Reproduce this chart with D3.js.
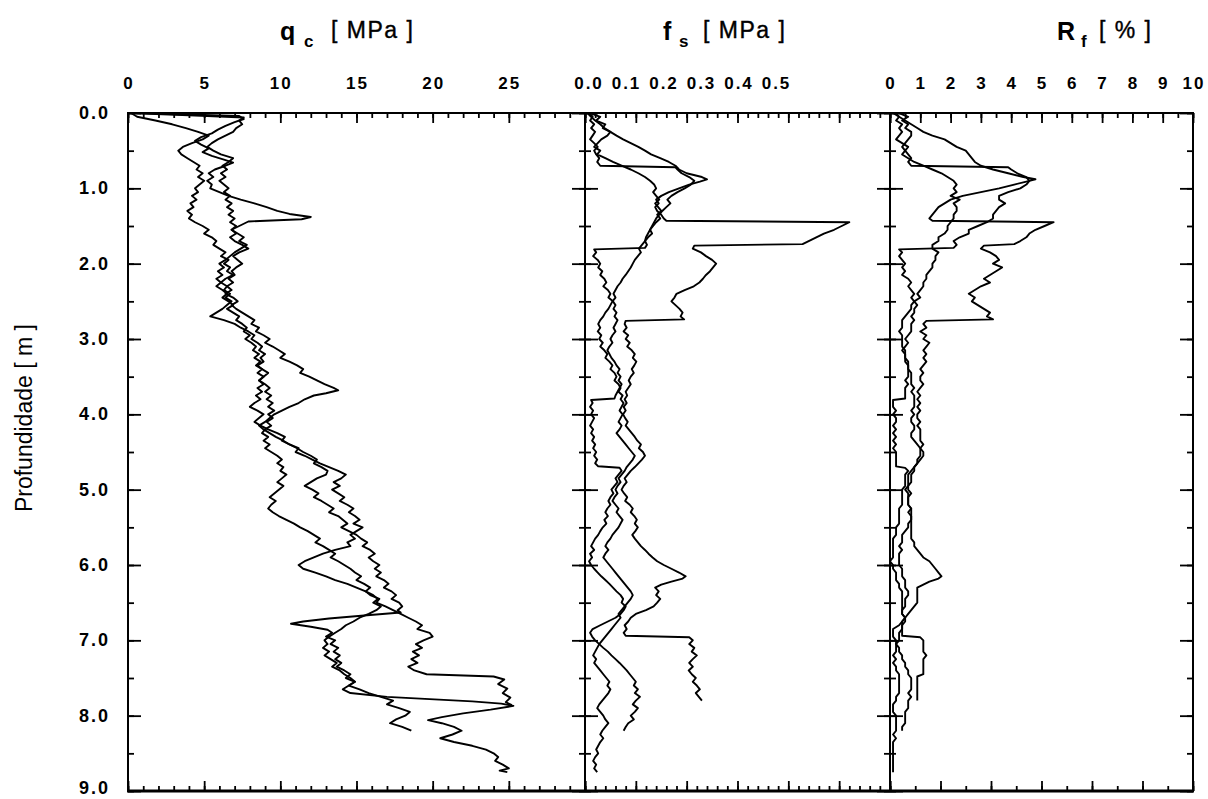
<!DOCTYPE html>
<html>
<head>
<meta charset="utf-8">
<script src="https://cdn.jsdelivr.net/npm/d3@7"></script>
<style>
  body { margin: 0; background: #fff; }
  svg { display: block; font-family: Arial, "Liberation Sans", Helvetica, sans-serif; }
</style>
</head>
<body>
<svg id="chart" width="1208" height="799"></svg>
<script>
// tick labels
const depthTickLabels = [0, 1, 2, 3, 4, 5, 6, 7, 8, 9]
const qcTickLabels = [0, 5, 10, 15, 20, 25]
const fsTickLabels = [0, 0.1, 0.2, 0.3, 0.4, 0.5]
const rfTickLabels = [0, 1, 2, 3, 4, 5, 6, 7, 8, 9, 10]

// qc [MPa] per sounding: [depth m, value]
const qc1 = [[0,0.3],[0.04,7.3],[0.08,7.6],[0.12,7.0],[0.17,6.4],[0.22,5.9],[0.27,5.5],[0.32,4.8],[0.37,4.4],[0.42,4.8],[0.47,5.3],[0.52,4.9],[0.57,5.5],[0.62,6.3],[0.66,6.9],[0.7,6.4],[0.75,5.7],[0.8,5.3],[0.85,5.6],[0.9,5.2],[0.95,5.5],[1.0,5.4],[1.05,6.0],[1.1,6.6],[1.15,7.4],[1.2,8.3],[1.25,9.1],[1.3,9.8],[1.34,10.6],[1.38,12.0],[1.41,11.4],[1.44,7.9],[1.5,7.3],[1.55,6.8],[1.6,7.1],[1.65,6.7],[1.7,7.0],[1.75,7.5],[1.8,7.9],[1.85,7.3],[1.9,6.9],[1.95,7.2],[2.0,7.5],[2.05,7.1],[2.1,6.8],[2.15,7.0],[2.2,6.6],[2.25,6.9],[2.3,6.5],[2.35,6.3],[2.4,6.7],[2.45,6.4],[2.5,6.8],[2.55,6.5],[2.6,6.2],[2.65,5.8],[2.7,5.4],[2.75,6.3],[2.8,7.0],[2.85,7.4],[2.9,7.9],[2.95,8.3],[3.0,8.1],[3.05,8.5],[3.1,8.8],[3.15,8.6],[3.2,9.0],[3.25,8.7],[3.3,8.9],[3.35,8.5],[3.4,8.8],[3.45,9.2],[3.5,8.9],[3.55,8.6],[3.6,8.9],[3.65,8.5],[3.7,8.8],[3.75,8.4],[3.8,8.7],[3.85,8.3],[3.9,8.0],[3.95,8.5],[4.0,8.9],[4.05,8.6],[4.1,8.3],[4.15,8.7],[4.2,9.2],[4.25,9.8],[4.3,10.3],[4.35,10.1],[4.4,10.6],[4.45,11.2],[4.5,11.0],[4.55,11.6],[4.6,12.1],[4.65,12.6],[4.7,13.2],[4.75,13.8],[4.8,14.3],[4.85,14.0],[4.9,13.5],[4.95,13.9],[5.0,13.4],[5.05,13.8],[5.1,14.2],[5.15,13.9],[5.2,14.4],[5.25,14.8],[5.3,14.5],[5.35,14.9],[5.4,15.2],[5.45,14.8],[5.5,15.4],[5.55,15.0],[5.6,14.6],[5.65,14.9],[5.7,14.4],[5.75,14.6],[5.8,13.6],[5.85,12.8],[5.9,12.2],[5.95,11.6],[6.0,11.2],[6.05,11.5],[6.1,12.3],[6.15,13.0],[6.2,13.6],[6.25,14.4],[6.3,15.0],[6.35,15.6],[6.4,15.9],[6.45,16.5],[6.5,16.3],[6.55,16.9],[6.6,17.4],[6.65,17.9],[6.7,18.4],[6.75,18.9],[6.8,19.3],[6.85,19.0],[6.9,19.8],[6.95,20.0],[7.0,19.4],[7.05,18.9],[7.1,19.3],[7.15,18.7],[7.2,19.1],[7.25,18.6],[7.3,19.0],[7.35,18.4],[7.4,18.8],[7.45,19.6],[7.48,24.0],[7.52,24.7],[7.58,24.3],[7.64,24.9],[7.7,24.6],[7.76,25.1],[7.82,24.8],[7.86,25.2]]
const qc2 = [[0,0.2],[0.05,0.6],[0.1,1.8],[0.15,2.9],[0.2,3.8],[0.25,4.6],[0.3,5.3],[0.35,4.9],[0.4,4.2],[0.45,3.6],[0.5,3.3],[0.55,3.5],[0.6,3.9],[0.65,4.3],[0.7,4.7],[0.75,4.5],[0.8,4.9],[0.85,4.6],[0.9,5.0],[0.95,4.7],[1.0,4.4],[1.05,4.6],[1.1,4.2],[1.15,4.5],[1.2,4.1],[1.25,4.3],[1.3,3.9],[1.35,4.2],[1.4,4.0],[1.45,4.4],[1.5,4.9],[1.55,5.3],[1.6,5.0],[1.65,5.5],[1.7,5.8],[1.75,5.6],[1.8,6.0],[1.85,6.4],[1.9,6.1],[1.95,6.6],[2.0,6.3],[2.05,6.7],[2.1,6.5],[2.15,6.9],[2.2,6.4],[2.25,6.1],[2.3,6.5],[2.35,6.8],[2.4,6.4],[2.45,6.9],[2.5,7.2],[2.55,6.8],[2.6,7.1],[2.65,7.5],[2.7,7.9],[2.75,8.3],[2.8,8.1],[2.85,8.6],[2.9,8.4],[2.95,8.9],[3.0,9.3],[3.05,9.0],[3.1,9.5],[3.15,9.9],[3.2,10.3],[3.25,10.0],[3.3,10.6],[3.35,11.1],[3.4,11.5],[3.45,11.3],[3.5,11.9],[3.55,12.4],[3.6,12.9],[3.65,13.5],[3.68,13.8],[3.72,13.0],[3.75,12.2],[3.8,11.6],[3.85,11.2],[3.9,10.6],[3.95,10.1],[4.0,9.6],[4.05,9.3],[4.1,9.0],[4.15,8.6],[4.2,8.9],[4.25,9.3],[4.3,9.7],[4.35,10.2],[4.4,10.6],[4.45,11.1],[4.5,11.5],[4.55,12.0],[4.6,12.4],[4.65,12.2],[4.7,12.7],[4.75,13.1],[4.8,13.0],[4.85,12.4],[4.9,12.0],[4.95,11.6],[5.0,12.1],[5.05,12.5],[5.1,12.2],[5.15,12.7],[5.2,13.1],[5.25,13.5],[5.3,13.2],[5.35,13.8],[5.4,14.1],[5.45,14.4],[5.5,14.0],[5.55,14.5],[5.6,15.0],[5.65,15.3],[5.7,15.7],[5.75,15.4],[5.8,15.9],[5.85,16.2],[5.9,15.8],[5.95,16.1],[6.0,16.5],[6.05,16.2],[6.1,16.6],[6.15,16.3],[6.2,16.8],[6.25,17.1],[6.3,16.8],[6.35,17.3],[6.4,17.6],[6.45,17.3],[6.5,17.8],[6.55,18.0],[6.6,17.7],[6.63,17.9],[6.67,15.5],[6.71,13.2],[6.75,11.5],[6.78,10.7],[6.82,12.0],[6.86,13.1],[6.9,13.4],[6.95,13.0],[7.0,13.6],[7.05,13.3],[7.1,13.8],[7.15,13.5],[7.2,13.9],[7.25,13.6],[7.3,14.0],[7.35,13.7],[7.4,14.2],[7.45,14.6],[7.5,14.3],[7.55,14.9],[7.6,14.5],[7.65,15.2],[7.7,15.8],[7.75,16.6],[7.8,17.4],[7.85,17.0],[7.9,17.8],[7.95,18.5],[8.0,18.2],[8.05,17.6],[8.1,17.2],[8.15,18.0],[8.2,18.6]]
const qc3 = [[0,0.1],[0.03,4.0],[0.06,7.6],[0.1,7.3],[0.15,7.5],[0.2,7.1],[0.25,6.9],[0.3,6.4],[0.35,5.9],[0.4,5.5],[0.45,5.2],[0.5,5.6],[0.55,6.1],[0.6,6.9],[0.65,6.6],[0.7,6.2],[0.75,6.5],[0.8,6.1],[0.85,6.4],[0.9,6.0],[0.95,6.3],[1.0,6.6],[1.05,6.3],[1.1,6.7],[1.15,6.4],[1.2,6.8],[1.25,6.5],[1.3,6.9],[1.35,6.6],[1.4,7.0],[1.45,6.7],[1.5,7.1],[1.55,6.8],[1.6,7.2],[1.65,7.6],[1.7,7.3],[1.75,7.8],[1.8,7.4],[1.85,7.0],[1.9,6.7],[1.95,6.4],[2.0,6.0],[2.05,6.3],[2.1,5.9],[2.15,6.2],[2.2,5.8],[2.25,6.1],[2.3,5.8],[2.35,6.2],[2.4,6.5],[2.45,6.2],[2.5,6.6],[2.55,6.9],[2.6,6.5],[2.65,6.9],[2.7,7.3],[2.75,7.1],[2.8,7.5],[2.85,7.8],[2.9,7.6],[2.95,8.0],[3.0,7.7],[3.05,8.1],[3.1,8.4],[3.15,8.2],[3.2,8.6],[3.25,8.3],[3.3,8.7],[3.35,8.4],[3.4,8.8],[3.45,8.5],[3.5,8.9],[3.55,8.6],[3.6,9.0],[3.65,9.3],[3.7,9.0],[3.75,9.4],[3.8,9.1],[3.85,9.5],[3.9,9.2],[3.95,9.6],[4.0,9.2],[4.05,9.5],[4.1,9.1],[4.15,9.4],[4.2,9.0],[4.25,8.8],[4.3,9.2],[4.35,8.9],[4.4,9.3],[4.45,9.0],[4.5,9.4],[4.55,9.8],[4.6,10.1],[4.65,9.8],[4.7,10.2],[4.75,10.0],[4.8,10.4],[4.85,10.1],[4.9,9.8],[4.95,10.2],[5.0,9.9],[5.05,9.6],[5.1,9.3],[5.15,9.7],[5.2,9.4],[5.25,9.2],[5.3,9.5],[5.35,9.9],[5.4,10.4],[5.45,10.9],[5.5,11.3],[5.55,11.8],[5.6,12.2],[5.65,12.6],[5.7,12.3],[5.75,12.8],[5.8,13.2],[5.85,13.6],[5.9,13.3],[5.95,13.8],[6.0,14.2],[6.05,14.6],[6.1,14.9],[6.15,15.3],[6.2,15.0],[6.25,15.5],[6.3,15.9],[6.35,15.6],[6.4,16.1],[6.45,16.4],[6.5,16.1],[6.55,16.6],[6.6,16.3],[6.65,15.8],[6.7,15.2],[6.75,14.8],[6.8,14.3],[6.85,14.0],[6.9,13.6],[6.95,13.2],[7.0,12.9],[7.05,13.1],[7.1,12.8],[7.15,13.2],[7.2,12.9],[7.25,13.3],[7.3,13.7],[7.35,13.4],[7.4,13.9],[7.45,14.2],[7.5,14.6],[7.55,14.9],[7.6,14.5],[7.65,14.1],[7.7,14.6],[7.75,17.0],[7.78,19.8],[7.81,22.6],[7.84,24.5],[7.87,25.3],[7.92,23.8],[7.97,22.0],[8.02,20.6],[8.06,19.7],[8.1,20.6],[8.15,21.4],[8.2,21.9],[8.25,21.3],[8.3,20.5],[8.35,21.4],[8.4,22.6],[8.45,23.5],[8.5,24.0],[8.55,24.3],[8.6,24.1],[8.65,24.6],[8.7,25.0],[8.73,24.4],[8.75,24.9]]

// fs [MPa] per sounding
const fs1 = [[0,0.005],[0.05,0.012],[0.1,0.02],[0.15,0.03],[0.2,0.038],[0.25,0.05],[0.3,0.062],[0.35,0.075],[0.4,0.09],[0.45,0.105],[0.5,0.118],[0.55,0.13],[0.6,0.148],[0.65,0.165],[0.7,0.178],[0.75,0.185],[0.8,0.2],[0.85,0.23],[0.88,0.24],[0.91,0.226],[0.95,0.205],[1.0,0.185],[1.05,0.165],[1.1,0.15],[1.15,0.14],[1.2,0.145],[1.25,0.138],[1.3,0.142],[1.35,0.15],[1.4,0.155],[1.43,0.16],[1.45,0.52],[1.5,0.505],[1.55,0.49],[1.6,0.47],[1.65,0.455],[1.7,0.44],[1.74,0.428],[1.76,0.215],[1.8,0.212],[1.85,0.228],[1.9,0.238],[1.95,0.25],[2.0,0.258],[2.05,0.252],[2.1,0.246],[2.15,0.238],[2.2,0.232],[2.25,0.225],[2.3,0.214],[2.35,0.196],[2.4,0.18],[2.45,0.176],[2.5,0.17],[2.55,0.178],[2.6,0.186],[2.65,0.192],[2.7,0.188],[2.74,0.195],[2.76,0.08],[2.8,0.078],[2.85,0.082],[2.9,0.076],[2.95,0.085],[3.0,0.08],[3.05,0.088],[3.1,0.083],[3.15,0.092],[3.2,0.098],[3.25,0.094],[3.3,0.101],[3.35,0.097],[3.4,0.092],[3.45,0.096],[3.5,0.09],[3.55,0.086],[3.6,0.09],[3.65,0.085],[3.7,0.08],[3.75,0.083],[3.8,0.078],[3.85,0.082],[3.9,0.076],[3.95,0.08],[4.0,0.075],[4.05,0.079],[4.1,0.084],[4.15,0.08],[4.2,0.086],[4.25,0.092],[4.3,0.098],[4.35,0.103],[4.4,0.11],[4.45,0.106],[4.5,0.114],[4.55,0.118],[4.6,0.112],[4.65,0.105],[4.7,0.098],[4.75,0.09],[4.8,0.084],[4.85,0.078],[4.9,0.082],[4.95,0.076],[5.0,0.072],[5.05,0.077],[5.1,0.083],[5.15,0.079],[5.2,0.088],[5.25,0.094],[5.3,0.09],[5.35,0.097],[5.4,0.102],[5.45,0.098],[5.5,0.104],[5.55,0.099],[5.6,0.093],[5.65,0.098],[5.7,0.104],[5.75,0.11],[5.8,0.118],[5.85,0.125],[5.9,0.133],[5.95,0.142],[6.0,0.155],[6.05,0.17],[6.1,0.185],[6.15,0.198],[6.18,0.192],[6.22,0.17],[6.26,0.15],[6.3,0.138],[6.35,0.145],[6.4,0.14],[6.45,0.148],[6.5,0.142],[6.55,0.135],[6.6,0.12],[6.65,0.1],[6.7,0.09],[6.75,0.085],[6.8,0.078],[6.85,0.082],[6.9,0.076],[6.94,0.08],[6.96,0.205],[7.0,0.212],[7.05,0.205],[7.1,0.215],[7.15,0.21],[7.2,0.22],[7.25,0.212],[7.3,0.205],[7.35,0.212],[7.4,0.204],[7.45,0.21],[7.5,0.218],[7.55,0.212],[7.6,0.22],[7.65,0.226],[7.7,0.218],[7.75,0.224],[7.8,0.23]]
const fs2 = [[0,0.008],[0.05,0.015],[0.1,0.01],[0.15,0.018],[0.2,0.012],[0.25,0.02],[0.3,0.015],[0.35,0.01],[0.4,0.018],[0.45,0.025],[0.5,0.018],[0.55,0.022],[0.6,0.028],[0.65,0.024],[0.7,0.03],[0.72,0.178],[0.75,0.182],[0.8,0.19],[0.85,0.205],[0.9,0.215],[0.95,0.208],[1.0,0.196],[1.05,0.182],[1.1,0.17],[1.15,0.162],[1.2,0.168],[1.25,0.16],[1.3,0.152],[1.35,0.146],[1.4,0.14],[1.45,0.136],[1.5,0.132],[1.55,0.128],[1.6,0.124],[1.65,0.12],[1.7,0.118],[1.75,0.122],[1.79,0.118],[1.81,0.018],[1.85,0.022],[1.9,0.016],[1.95,0.025],[2.0,0.03],[2.05,0.026],[2.1,0.034],[2.15,0.03],[2.2,0.038],[2.25,0.042],[2.3,0.036],[2.35,0.045],[2.4,0.05],[2.45,0.046],[2.5,0.055],[2.55,0.06],[2.6,0.056],[2.65,0.062],[2.7,0.058],[2.75,0.064],[2.8,0.06],[2.85,0.056],[2.9,0.06],[2.95,0.054],[3.0,0.05],[3.05,0.054],[3.1,0.048],[3.15,0.044],[3.2,0.048],[3.25,0.052],[3.3,0.058],[3.35,0.062],[3.4,0.068],[3.45,0.064],[3.5,0.07],[3.55,0.066],[3.6,0.072],[3.65,0.068],[3.7,0.064],[3.75,0.06],[3.79,0.058],[3.81,0.012],[3.85,0.015],[3.9,0.01],[3.95,0.016],[4.0,0.012],[4.05,0.018],[4.1,0.014],[4.15,0.01],[4.2,0.016],[4.25,0.012],[4.3,0.018],[4.35,0.014],[4.4,0.02],[4.45,0.016],[4.5,0.022],[4.55,0.018],[4.6,0.024],[4.65,0.02],[4.69,0.026],[4.71,0.068],[4.75,0.072],[4.8,0.066],[4.85,0.06],[4.9,0.064],[4.95,0.058],[5.0,0.052],[5.05,0.056],[5.1,0.05],[5.15,0.046],[5.2,0.05],[5.25,0.044],[5.3,0.04],[5.35,0.045],[5.4,0.038],[5.45,0.042],[5.5,0.035],[5.55,0.03],[5.6,0.026],[5.65,0.02],[5.7,0.016],[5.75,0.012],[5.8,0.018],[5.85,0.01],[5.9,0.014],[5.95,0.008],[6.0,0.012],[6.05,0.018],[6.1,0.025],[6.15,0.032],[6.2,0.04],[6.25,0.048],[6.3,0.055],[6.35,0.062],[6.4,0.07],[6.45,0.075],[6.5,0.072],[6.55,0.08],[6.6,0.076],[6.65,0.07],[6.7,0.06],[6.75,0.045],[6.8,0.03],[6.85,0.015],[6.9,0.01],[6.95,0.014],[7.0,0.02],[7.05,0.028],[7.1,0.036],[7.15,0.045],[7.2,0.052],[7.25,0.06],[7.3,0.068],[7.35,0.075],[7.4,0.082],[7.45,0.088],[7.5,0.094],[7.55,0.1],[7.6,0.096],[7.65,0.104],[7.7,0.098],[7.75,0.108],[7.8,0.1],[7.85,0.094],[7.9,0.104],[7.95,0.098],[8.0,0.09],[8.05,0.096],[8.1,0.085],[8.15,0.08],[8.2,0.076]]
const fs3 = [[0,0.01],[0.05,0.03],[0.1,0.022],[0.15,0.04],[0.2,0.035],[0.25,0.05],[0.3,0.044],[0.35,0.032],[0.4,0.025],[0.45,0.018],[0.5,0.03],[0.55,0.024],[0.6,0.04],[0.65,0.055],[0.7,0.072],[0.75,0.09],[0.8,0.105],[0.85,0.118],[0.9,0.128],[0.95,0.136],[1.0,0.14],[1.05,0.134],[1.1,0.14],[1.15,0.146],[1.2,0.138],[1.25,0.144],[1.3,0.15],[1.35,0.142],[1.4,0.148],[1.45,0.14],[1.5,0.134],[1.55,0.128],[1.6,0.132],[1.65,0.124],[1.7,0.118],[1.75,0.112],[1.8,0.106],[1.85,0.11],[1.9,0.104],[1.95,0.098],[2.0,0.094],[2.05,0.09],[2.1,0.085],[2.15,0.08],[2.2,0.074],[2.25,0.07],[2.3,0.064],[2.35,0.06],[2.4,0.056],[2.45,0.06],[2.5,0.054],[2.55,0.05],[2.6,0.046],[2.65,0.04],[2.7,0.036],[2.75,0.03],[2.8,0.026],[2.85,0.03],[2.9,0.025],[2.95,0.032],[3.0,0.028],[3.05,0.035],[3.1,0.03],[3.15,0.038],[3.2,0.044],[3.25,0.04],[3.3,0.048],[3.35,0.054],[3.4,0.05],[3.45,0.058],[3.5,0.062],[3.55,0.058],[3.6,0.066],[3.65,0.07],[3.7,0.066],[3.75,0.074],[3.8,0.07],[3.85,0.076],[3.9,0.072],[3.95,0.068],[4.0,0.074],[4.05,0.07],[4.1,0.066],[4.15,0.072],[4.2,0.068],[4.25,0.062],[4.3,0.068],[4.35,0.074],[4.4,0.08],[4.45,0.086],[4.5,0.092],[4.55,0.098],[4.6,0.094],[4.65,0.088],[4.7,0.082],[4.75,0.078],[4.8,0.072],[4.85,0.066],[4.9,0.07],[4.95,0.064],[5.0,0.06],[5.05,0.064],[5.1,0.058],[5.15,0.054],[5.2,0.06],[5.25,0.066],[5.3,0.062],[5.35,0.068],[5.4,0.074],[5.45,0.07],[5.5,0.066],[5.55,0.06],[5.6,0.054],[5.65,0.05],[5.7,0.044],[5.75,0.04],[5.8,0.046],[5.85,0.04],[5.9,0.036],[5.95,0.042],[6.0,0.048],[6.05,0.054],[6.1,0.06],[6.15,0.066],[6.2,0.072],[6.25,0.078],[6.3,0.084],[6.35,0.09],[6.4,0.094],[6.45,0.09],[6.5,0.084],[6.55,0.078],[6.6,0.072],[6.65,0.066],[6.7,0.07],[6.75,0.064],[6.8,0.058],[6.85,0.052],[6.9,0.046],[6.95,0.04],[7.0,0.034],[7.05,0.028],[7.1,0.024],[7.15,0.02],[7.2,0.016],[7.25,0.022],[7.3,0.018],[7.35,0.024],[7.4,0.03],[7.45,0.036],[7.5,0.042],[7.55,0.048],[7.6,0.044],[7.65,0.05],[7.7,0.046],[7.75,0.04],[7.8,0.034],[7.85,0.028],[7.9,0.024],[7.95,0.03],[8.0,0.036],[8.05,0.04],[8.1,0.046],[8.15,0.04],[8.2,0.034],[8.25,0.03],[8.3,0.036],[8.35,0.03],[8.4,0.026],[8.45,0.022],[8.5,0.026],[8.55,0.02],[8.6,0.016],[8.65,0.022],[8.7,0.018],[8.75,0.024]]

// Rf [%] per sounding
const rf1 = [[0,0.2],[0.05,0.3],[0.1,0.5],[0.15,0.7],[0.2,0.9],[0.25,1.1],[0.3,1.4],[0.35,1.8],[0.4,2.0],[0.45,2.2],[0.5,2.5],[0.55,2.6],[0.6,2.7],[0.65,2.8],[0.7,3.0],[0.75,3.4],[0.8,3.9],[0.85,4.4],[0.88,4.8],[0.91,4.5],[0.95,4.1],[1.0,3.6],[1.05,3.0],[1.1,2.4],[1.15,2.0],[1.2,1.8],[1.25,1.6],[1.3,1.5],[1.35,1.4],[1.4,1.3],[1.43,1.4],[1.45,5.4],[1.5,5.1],[1.55,4.8],[1.6,4.6],[1.65,4.5],[1.7,4.3],[1.74,4.1],[1.76,3.1],[1.8,3.0],[1.85,3.3],[1.9,3.5],[1.95,3.6],[2.0,3.4],[2.05,3.7],[2.1,3.5],[2.15,3.3],[2.2,3.1],[2.25,3.3],[2.3,3.0],[2.35,2.8],[2.4,2.6],[2.45,2.8],[2.5,2.7],[2.55,2.9],[2.6,3.1],[2.65,3.3],[2.7,3.2],[2.74,3.4],[2.76,1.2],[2.8,1.1],[2.85,1.2],[2.9,1.0],[2.95,1.2],[3.0,1.1],[3.05,1.3],[3.1,1.2],[3.15,1.1],[3.2,1.2],[3.25,1.1],[3.3,1.2],[3.35,1.1],[3.4,1.0],[3.45,1.1],[3.5,1.0],[3.55,1.0],[3.6,1.1],[3.65,1.0],[3.7,0.9],[3.75,1.0],[3.8,0.9],[3.85,1.0],[3.9,0.9],[3.95,1.0],[4.0,0.9],[4.05,0.9],[4.1,1.0],[4.15,0.9],[4.2,1.0],[4.25,1.0],[4.3,1.0],[4.35,1.0],[4.4,1.1],[4.45,1.0],[4.5,1.1],[4.55,1.1],[4.6,1.0],[4.65,0.9],[4.7,0.8],[4.75,0.7],[4.8,0.6],[4.85,0.6],[4.9,0.6],[4.95,0.6],[5.0,0.5],[5.05,0.6],[5.1,0.6],[5.15,0.6],[5.2,0.6],[5.25,0.7],[5.3,0.6],[5.35,0.7],[5.4,0.7],[5.45,0.7],[5.5,0.7],[5.55,0.7],[5.6,0.7],[5.65,0.7],[5.7,0.8],[5.75,0.8],[5.8,0.9],[5.85,1.0],[5.9,1.1],[5.95,1.3],[6.0,1.4],[6.05,1.5],[6.1,1.6],[6.15,1.7],[6.18,1.6],[6.22,1.3],[6.26,1.1],[6.3,0.9],[6.35,0.9],[6.4,0.9],[6.45,0.9],[6.5,0.9],[6.55,0.8],[6.6,0.7],[6.65,0.6],[6.7,0.5],[6.75,0.5],[6.8,0.4],[6.85,0.4],[6.9,0.4],[6.94,0.4],[6.96,1.0],[7.0,1.1],[7.05,1.1],[7.1,1.1],[7.15,1.1],[7.2,1.2],[7.25,1.1],[7.3,1.1],[7.35,1.1],[7.4,1.1],[7.45,1.1],[7.48,0.9],[7.52,0.9],[7.6,0.9],[7.65,0.9],[7.7,0.9],[7.75,0.9],[7.8,0.9]]
const rf2 = [[0,0.1],[0.05,0.3],[0.1,0.2],[0.15,0.4],[0.2,0.3],[0.25,0.4],[0.3,0.3],[0.35,0.2],[0.4,0.4],[0.45,0.6],[0.5,0.5],[0.55,0.6],[0.6,0.7],[0.65,0.6],[0.7,0.7],[0.72,3.9],[0.75,4.0],[0.8,4.2],[0.85,4.5],[0.9,4.6],[0.95,4.5],[1.0,4.3],[1.05,3.9],[1.1,3.6],[1.15,3.6],[1.2,3.8],[1.25,3.6],[1.3,3.5],[1.35,3.4],[1.4,3.4],[1.45,3.2],[1.5,2.9],[1.55,2.6],[1.6,2.6],[1.65,2.3],[1.7,2.1],[1.75,2.2],[1.79,2.1],[1.81,0.3],[1.85,0.4],[1.9,0.3],[1.95,0.4],[2.0,0.5],[2.05,0.4],[2.1,0.5],[2.15,0.4],[2.2,0.6],[2.25,0.7],[2.3,0.6],[2.35,0.7],[2.4,0.8],[2.45,0.7],[2.5,0.8],[2.55,0.9],[2.6,0.8],[2.65,0.8],[2.7,0.7],[2.75,0.8],[2.8,0.7],[2.85,0.7],[2.9,0.7],[2.95,0.6],[3.0,0.5],[3.05,0.6],[3.1,0.5],[3.15,0.4],[3.2,0.5],[3.25,0.5],[3.3,0.5],[3.35,0.6],[3.4,0.6],[3.45,0.6],[3.5,0.6],[3.55,0.5],[3.6,0.6],[3.65,0.5],[3.7,0.5],[3.75,0.5],[3.79,0.5],[3.81,0.1],[3.85,0.1],[3.9,0.1],[3.95,0.2],[4.0,0.1],[4.05,0.2],[4.1,0.2],[4.15,0.1],[4.2,0.2],[4.25,0.1],[4.3,0.2],[4.35,0.1],[4.4,0.2],[4.45,0.1],[4.5,0.2],[4.55,0.2],[4.6,0.2],[4.65,0.2],[4.69,0.2],[4.71,0.5],[4.75,0.6],[4.8,0.5],[4.85,0.5],[4.9,0.5],[4.95,0.5],[5.0,0.4],[5.05,0.4],[5.1,0.4],[5.15,0.4],[5.2,0.4],[5.25,0.3],[5.3,0.3],[5.35,0.3],[5.4,0.3],[5.45,0.3],[5.5,0.2],[5.55,0.2],[5.6,0.2],[5.65,0.1],[5.7,0.1],[5.75,0.1],[5.8,0.1],[5.85,0.1],[5.9,0.1],[5.95,0.0],[6.0,0.1],[6.05,0.1],[6.1,0.2],[6.15,0.2],[6.2,0.2],[6.25,0.3],[6.3,0.3],[6.35,0.4],[6.4,0.4],[6.45,0.4],[6.5,0.4],[6.55,0.4],[6.6,0.4],[6.65,0.4],[6.7,0.5],[6.75,0.4],[6.8,0.3],[6.85,0.1],[6.9,0.1],[6.95,0.1],[7.0,0.2],[7.05,0.2],[7.1,0.3],[7.15,0.3],[7.2,0.4],[7.25,0.4],[7.3,0.5],[7.35,0.5],[7.4,0.6],[7.45,0.6],[7.5,0.7],[7.55,0.7],[7.6,0.7],[7.65,0.7],[7.7,0.6],[7.75,0.7],[7.8,0.6],[7.85,0.6],[7.9,0.6],[7.95,0.5],[8.0,0.5],[8.05,0.5],[8.1,0.5],[8.15,0.4],[8.2,0.4]]
const rf3 = [[0,0.3],[0.05,0.6],[0.1,0.4],[0.15,0.6],[0.2,0.5],[0.25,0.7],[0.3,0.7],[0.35,0.6],[0.4,0.5],[0.45,0.4],[0.5,0.5],[0.55,0.4],[0.6,0.6],[0.65,0.8],[0.7,1.1],[0.75,1.4],[0.8,1.7],[0.85,1.9],[0.9,2.1],[0.95,2.2],[1.0,2.1],[1.05,2.2],[1.1,2.0],[1.15,2.3],[1.2,2.1],[1.25,2.2],[1.3,2.2],[1.35,2.1],[1.4,2.1],[1.45,2.0],[1.5,1.9],[1.55,1.9],[1.6,1.8],[1.65,1.6],[1.7,1.6],[1.75,1.4],[1.8,1.4],[1.85,1.6],[1.9,1.5],[1.95,1.5],[2.0,1.4],[2.05,1.4],[2.1,1.3],[2.15,1.2],[2.2,1.2],[2.25,1.1],[2.3,1.1],[2.35,1.0],[2.4,0.9],[2.45,1.0],[2.5,0.8],[2.55,0.7],[2.6,0.7],[2.65,0.6],[2.7,0.5],[2.75,0.4],[2.8,0.4],[2.85,0.4],[2.9,0.3],[2.95,0.4],[3.0,0.4],[3.05,0.4],[3.1,0.4],[3.15,0.5],[3.2,0.5],[3.25,0.5],[3.3,0.6],[3.35,0.6],[3.4,0.6],[3.45,0.7],[3.5,0.7],[3.55,0.7],[3.6,0.7],[3.65,0.8],[3.7,0.7],[3.75,0.8],[3.8,0.8],[3.85,0.8],[3.9,0.8],[3.95,0.7],[4.0,0.8],[4.05,0.7],[4.1,0.7],[4.15,0.8],[4.2,0.8],[4.25,0.7],[4.3,0.7],[4.35,0.8],[4.4,0.9],[4.45,1.0],[4.5,1.0],[4.55,1.0],[4.6,0.9],[4.65,0.9],[4.7,0.8],[4.75,0.8],[4.8,0.7],[4.85,0.7],[4.9,0.7],[4.95,0.6],[5.0,0.6],[5.05,0.7],[5.1,0.6],[5.15,0.6],[5.2,0.6],[5.25,0.7],[5.3,0.7],[5.35,0.7],[5.4,0.7],[5.45,0.6],[5.5,0.6],[5.55,0.5],[5.6,0.4],[5.65,0.4],[5.7,0.4],[5.75,0.3],[5.8,0.4],[5.85,0.3],[5.9,0.3],[5.95,0.3],[6.0,0.3],[6.05,0.4],[6.1,0.4],[6.15,0.4],[6.2,0.5],[6.25,0.5],[6.3,0.5],[6.35,0.6],[6.4,0.6],[6.45,0.5],[6.5,0.5],[6.55,0.5],[6.6,0.4],[6.65,0.4],[6.7,0.5],[6.75,0.4],[6.8,0.4],[6.85,0.4],[6.9,0.3],[6.95,0.3],[7.0,0.3],[7.05,0.2],[7.1,0.2],[7.15,0.2],[7.2,0.1],[7.25,0.2],[7.3,0.1],[7.35,0.2],[7.4,0.2],[7.45,0.3],[7.5,0.3],[7.55,0.3],[7.6,0.3],[7.65,0.3],[7.7,0.3],[7.75,0.2],[7.8,0.2],[7.85,0.1],[7.9,0.1],[7.95,0.1],[8.0,0.2],[8.05,0.2],[8.1,0.2],[8.15,0.2],[8.2,0.2],[8.25,0.1],[8.3,0.2],[8.35,0.1],[8.4,0.1],[8.45,0.1],[8.5,0.1],[8.55,0.1],[8.6,0.1],[8.65,0.1],[8.7,0.1],[8.75,0.1]]

const svg = d3.select("#chart")
const plotTop = 113, plotBottom = 791

const y = d3.scaleLinear().domain([0, 9]).range([plotTop, plotBottom])

const qcX = d3.scaleLinear().domain([0, 30]).range([128, 585])
const fsX = d3.scaleLinear().domain([0, 0.6]).range([585, 890])
const fsLabelX = d3.scaleLinear().domain([0, 0.8]).range([588, 888])
const rfX = d3.scaleLinear().domain([0, 10]).range([890, 1193])
const rfBottomX = d3.scaleLinear().domain([0, 6]).range([890, 1193])

const ink = "#000"

// x tick marks, drawn inward from top and bottom frame lines
function xTicks(scale, majors, minors, topSide, bottomSide) {
    if (topSide) {
        svg.append("g").attr("transform", `translate(0,${plotTop})`)
            .call(d3.axisBottom(scale).tickValues(minors).tickSize(5).tickFormat(""))
        svg.append("g").attr("transform", `translate(0,${plotTop})`)
            .call(d3.axisBottom(scale).tickValues(majors).tickSize(10).tickFormat(""))
    }
    if (bottomSide) {
        svg.append("g").attr("transform", `translate(0,${plotBottom})`)
            .call(d3.axisTop(scale).tickValues(minors).tickSize(5).tickFormat(""))
        svg.append("g").attr("transform", `translate(0,${plotBottom})`)
            .call(d3.axisTop(scale).tickValues(majors).tickSize(10).tickFormat(""))
    }
}

xTicks(qcX, qcX.ticks(6), qcX.ticks(30), true, true)
xTicks(fsX, fsX.ticks(6), fsX.ticks(30), true, true)
xTicks(rfX, rfX.ticks(10), rfX.ticks(20), true, false)
xTicks(rfBottomX, rfBottomX.ticks(6), rfBottomX.ticks(12), false, true)

// depth ticks on each vertical frame line
const depthMajor = y.ticks(9)
const depthMinor = y.ticks(18)
function yTicks(xPos, left, right) {
    if (right) {
        svg.append("g").attr("transform", `translate(${xPos},0)`)
            .call(d3.axisRight(y).tickValues(depthMinor).tickSize(6).tickFormat(""))
        svg.append("g").attr("transform", `translate(${xPos},0)`)
            .call(d3.axisRight(y).tickValues(depthMajor).tickSize(13).tickFormat(""))
    }
    if (left) {
        svg.append("g").attr("transform", `translate(${xPos},0)`)
            .call(d3.axisLeft(y).tickValues(depthMinor).tickSize(6).tickFormat(""))
        svg.append("g").attr("transform", `translate(${xPos},0)`)
            .call(d3.axisLeft(y).tickValues(depthMajor).tickSize(13).tickFormat(""))
    }
}
yTicks(128, false, true)
yTicks(585, true, true)
yTicks(890, true, true)
yTicks(1193, true, false)

svg.selectAll(".domain").remove()
svg.selectAll(".tick line").attr("stroke", ink).attr("stroke-width", 1.8)

// frame
svg.append("path")
    .attr("d", `M128,${plotTop}H1193V${plotBottom}H128Z M585,${plotTop}V${plotBottom} M890,${plotTop}V${plotBottom}`)
    .attr("fill", "none").attr("stroke", ink).attr("stroke-width", 2)
svg.append("line").attr("x1", 127).attr("x2", 1194).attr("y1", plotBottom).attr("y2", plotBottom)
    .attr("stroke", ink).attr("stroke-width", 3)

// top tick labels
function topLabels(scale, values, fmt) {
    svg.append("g").selectAll("text").data(values).enter().append("text")
        .attr("x", d => scale(d) + 1).attr("y", 89)
        .attr("text-anchor", "middle")
        .attr("font-size", 17).attr("font-weight", "bold")
        .attr("letter-spacing", 2)
        .text(fmt)
}
topLabels(qcX, qcTickLabels, d => d3.format("d")(d))
topLabels(fsLabelX, fsTickLabels, d => d3.format(".1f")(d))
topLabels(rfX, rfTickLabels, d => d3.format("d")(d))

// depth labels (last one kept inside the page)
svg.append("g").selectAll("text").data(depthTickLabels).enter().append("text")
    .attr("x", 110).attr("y", d => Math.min(y(d) + 6, 794))
    .attr("text-anchor", "end")
    .attr("font-size", 18).attr("font-weight", "bold")
    .attr("letter-spacing", 2)
    .text(d => d3.format(".1f")(d))

svg.append("text")
    .attr("transform", `translate(32,${y(4.05)}) rotate(-90)`)
    .attr("text-anchor", "middle")
    .attr("font-size", 23)
    .text("Profundidade  [ m ]")

// panel titles
function title(x, main, sub, unit, subX, unitX) {
    svg.append("text").attr("x", x).attr("y", 40)
        .attr("font-size", 25).attr("font-weight", "bold").text(main)
    svg.append("text").attr("x", subX).attr("y", 47)
        .attr("font-size", 17).attr("font-weight", "bold").text(sub)
    svg.append("text").attr("x", unitX).attr("y", 38)
        .attr("font-size", 23).attr("letter-spacing", 1.5)
        .attr("stroke", ink).attr("stroke-width", 0.4).text(unit)
}
title(280, "q", "c", "[ MPa ]", 304, 331)
title(663, "f", "s", "[ MPa ]", 679, 703)
title(1057, "R", "f", "[ % ]", 1081, 1099)

// profiles
function profile(series, xScale) {
    const line = d3.line().x(d => xScale(d[1])).y(d => y(d[0]))
    svg.append("g").selectAll("path").data(series).enter().append("path")
        .attr("d", line)
        .attr("fill", "none").attr("stroke", ink)
        .attr("stroke-width", 1.9).attr("stroke-linejoin", "round")
}
profile([qc1, qc2, qc3], qcX)
profile([fs1, fs2, fs3], fsX)
profile([rf1, rf2, rf3], rfX)
</script>
</body>
</html>
